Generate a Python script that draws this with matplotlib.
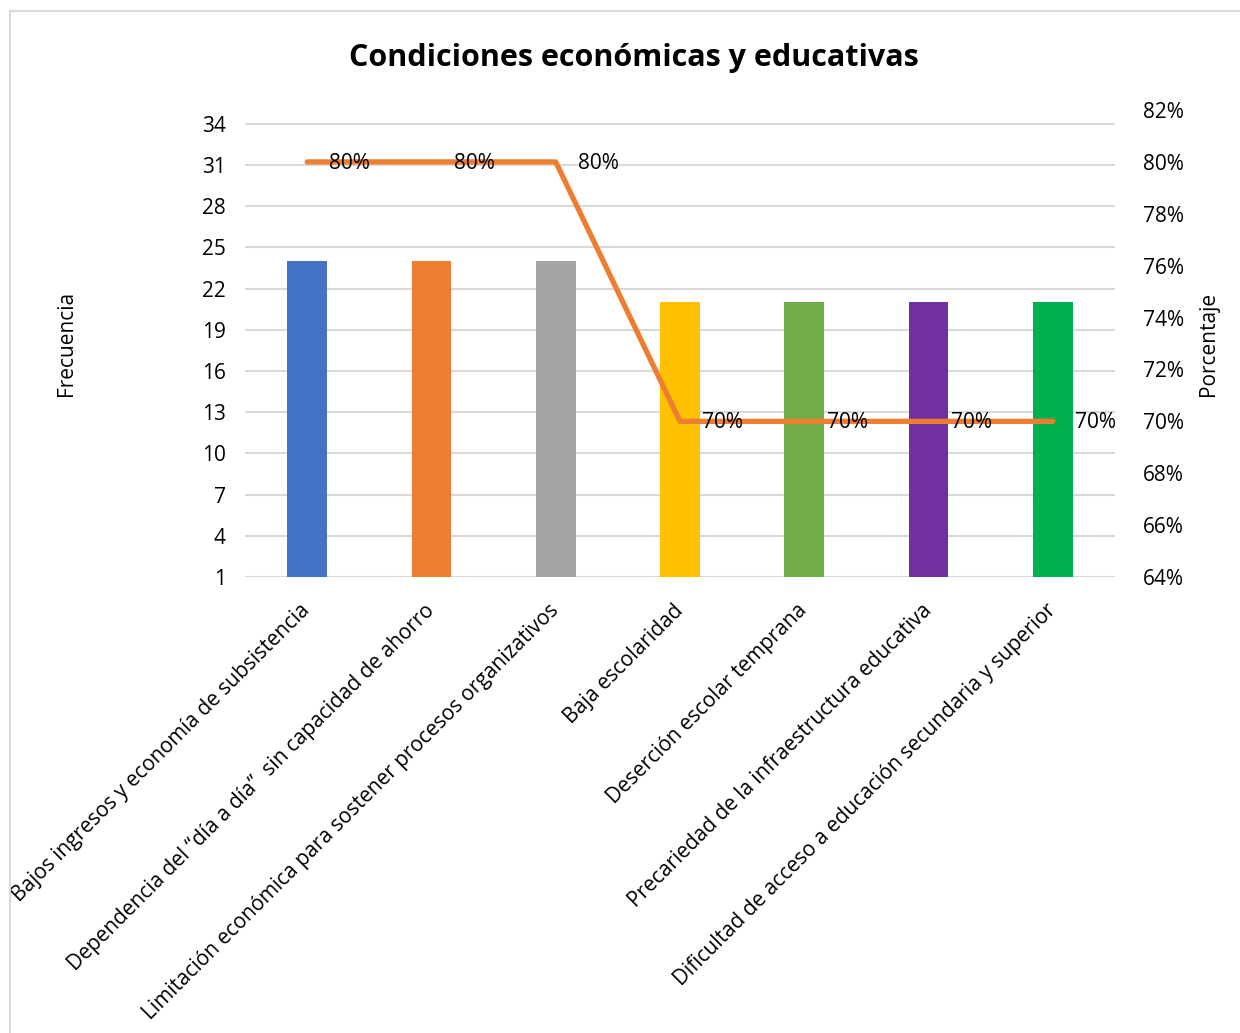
import numpy as np
import matplotlib
matplotlib.use("Agg")
import matplotlib.pyplot as plt
from matplotlib.patches import Rectangle
from matplotlib.ticker import PercentFormatter

plt.rcParams['font.family'] = ['Open Sans', 'DejaVu Sans']

categorias = [
    "Bajos ingresos y economía de subsistencia",
    "Dependencia del \u201cdía a día\u201d  sin capacidad de ahorro",
    "Limitación económica para sostener procesos organizativos",
    "Baja escolaridad",
    "Deserción escolar temprana",
    "Precariedad de la infraestructura educativa",
    "Dificultad de acceso a educación secundaria y superior",
]
frecuencia = [24, 24, 24, 21, 21, 21, 21]
porcentaje = [80, 80, 80, 70, 70, 70, 70]
colores = ["#4472C4", "#ED7D31", "#A5A5A5", "#FFC000", "#70AD47", "#7030A0", "#00B050"]

fig = plt.figure(figsize=(12.4, 10.33), dpi=100)
ax = fig.add_axes([0.1976, 0.4414, 0.7016, 0.4521])

x = np.arange(len(categorias))
ax.bar(x, [f - 1 for f in frecuencia], bottom=1, width=0.32, color=colores, zorder=2)
ax.set_xlim(-0.5, len(categorias) - 0.5)
ax.set_ylim(1, 35)
ax.set_yticks(np.arange(1, 35, 3))
ax.grid(axis='y', color='#d9d9d9', linewidth=1.5, zorder=0)
ax.set_axisbelow(True)
for s in ax.spines.values():
    s.set_visible(False)
ax.tick_params(axis='both', length=0, labelsize=15, pad=14)
ax.set_xticks(x)
ax.set_xticklabels(categorias, rotation=45, ha='right', rotation_mode='anchor', fontsize=15)
for lbl in ax.get_xticklabels():
    lbl.set_va('center')
ax.tick_params(axis='x', pad=22)
ax.set_ylabel("Frecuencia", fontsize=15, labelpad=90)

ax2 = ax.twinx()
ax2.plot(x, porcentaje, color="#ED7D31", linewidth=3.8, solid_capstyle='round', zorder=3)
ax2.set_ylim(64, 82)
ax2.set_yticks(np.arange(64, 83, 2))
ax2.yaxis.set_major_formatter(PercentFormatter(decimals=0))
for s in ax2.spines.values():
    s.set_visible(False)
ax2.tick_params(axis='y', length=0, labelsize=15, pad=20)
ax2.set_ylabel("Porcentaje", fontsize=15, labelpad=10)
for xi, p in zip(x, porcentaje):
    ax2.annotate(f"{p}%", (xi, p), xytext=(16, -1), textcoords='offset points',
                 ha='left', va='center', fontsize=15)

fig.text(0.511, 0.944, "Condiciones económicas y educativas", ha='center', va='center',
         fontsize=22, fontweight='bold')

fig.patches.append(Rectangle((10 / 1240, -0.1), 1.2, 1.1 - 11 / 1033, transform=fig.transFigure,
                             fill=False, edgecolor='#d9d9d9', linewidth=1.5))

fig.savefig("out.png", dpi=100)
